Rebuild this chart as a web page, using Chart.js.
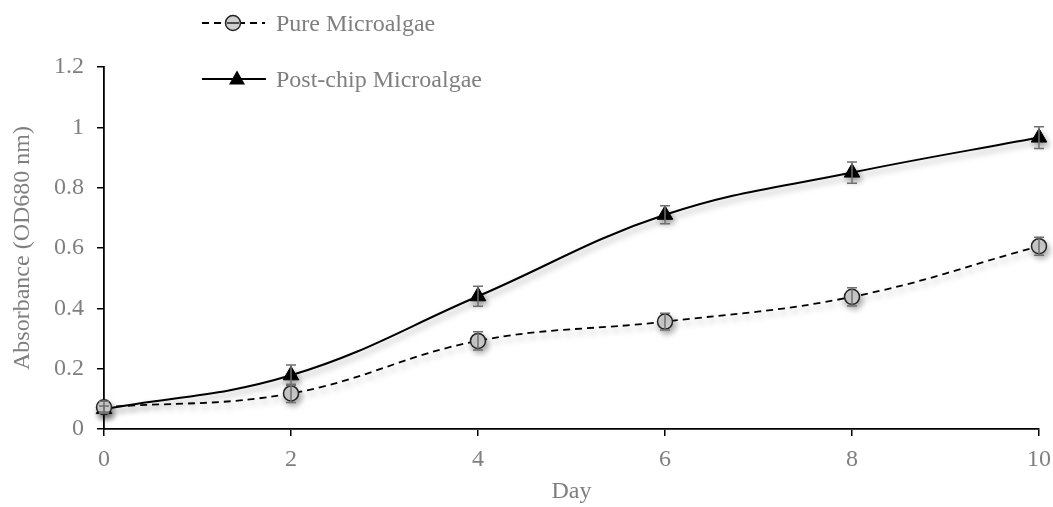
<!DOCTYPE html>
<html>
<head>
<meta charset="utf-8">
<script src="https://cdn.jsdelivr.net/npm/chart.js@4/dist/chart.umd.min.js"></script>
<style>
    html, body { margin: 0; padding: 0; background: #fff; }
    #wrap { position: relative; width: 1053px; height: 507px; }
    .leg {
        position: absolute; left: 198px; height: 30px;
        display: flex; align-items: center;
        font-family: 'Liberation Serif', 'Times New Roman', serif;
        font-size: 24px; color: #7f7f7f; white-space: nowrap;
    }
    .leg svg { margin-right: 8px; }
</style>
</head>
<body>
<div id="wrap">
    <canvas id="chart" width="1053" height="507"></canvas>
    <div class="leg" style="top:8px">
        <svg width="70" height="30">
            <line x1="4" y1="15" x2="67" y2="15" stroke="#000" stroke-width="1.8" stroke-dasharray="7,5"/>
            <circle cx="35" cy="15" r="7.5" fill="#d0d0d0" stroke="#222" stroke-width="1.5"/>
            <line x1="29" y1="15" x2="41" y2="15" stroke="#222" stroke-width="1.5"/>
        </svg>
        <span>Pure Microalgae</span>
    </div>
    <div class="leg" style="top:64px">
        <svg width="70" height="30">
            <line x1="4" y1="15" x2="68" y2="15" stroke="#000" stroke-width="2"/>
            <polygon points="39,6.5 47,20.5 31,20.5" fill="#000"/>
        </svg>
        <span>Post-chip Microalgae</span>
    </div>
</div>
<script>
// values
const days = [0, 2, 4, 6, 8, 10];
const pure = [0.072, 0.118, 0.292, 0.356, 0.438, 0.606];
const pureErr = [0.02, 0.03, 0.03, 0.028, 0.03, 0.03];
const postChip = [0.066, 0.178, 0.440, 0.710, 0.850, 0.966];
const postChipErr = [0.01, 0.034, 0.033, 0.03, 0.035, 0.036];
const yTicks = [0, 0.2, 0.4, 0.6, 0.8, 1, 1.2];

const serif = "'Liberation Serif', 'Times New Roman', serif";
const grey = '#7f7f7f';

function pts(ys) {
    return days.map((d, i) => ({ x: d, y: ys[i] }));
}

// shadow under the marks + error bars on top
const errorBars = {
    id: 'errorBars',
    beforeDatasetsDraw(chart) {
        const ctx = chart.ctx;
        ctx.save();
        ctx.shadowColor = 'rgba(0,0,0,0.35)';
        ctx.shadowBlur = 6;
        ctx.shadowOffsetX = 2;
        ctx.shadowOffsetY = 4;
    },
    afterDatasetsDraw(chart) {
        const ctx = chart.ctx;
        ctx.restore();
        const ys = chart.scales.y;
        const errs = [pureErr, postChipErr];
        const vals = [pure, postChip];
        ctx.save();
        ctx.strokeStyle = '#6f6f6f';
        ctx.lineWidth = 1.5;
        errs.forEach((err, i) => {
            const meta = chart.getDatasetMeta(i);
            meta.data.forEach((p, j) => {
                const top = ys.getPixelForValue(vals[i][j] + err[j]);
                const bot = ys.getPixelForValue(vals[i][j] - err[j]);
                ctx.beginPath();
                ctx.moveTo(p.x, top); ctx.lineTo(p.x, bot);
                ctx.moveTo(p.x - 5, top); ctx.lineTo(p.x + 5, top);
                ctx.moveTo(p.x - 5, bot); ctx.lineTo(p.x + 5, bot);
                ctx.stroke();
            });
        });
        ctx.restore();
    }
};

new Chart(document.getElementById('chart'), {
    type: 'line',
    data: {
        datasets: [
            {
                label: 'Pure Microalgae',
                data: pts(pure),
                borderColor: '#000',
                borderWidth: 1.8,
                borderDash: [7, 5],
                pointStyle: 'circle',
                pointRadius: 7.5,
                pointBackgroundColor: '#d0d0d0',
                pointBorderColor: '#222',
                pointBorderWidth: 1.5,
                tension: 0.4,
                clip: false
            },
            {
                label: 'Post-chip Microalgae',
                data: pts(postChip),
                borderColor: '#000',
                borderWidth: 2,
                pointStyle: 'triangle',
                pointRadius: 9,
                pointBackgroundColor: '#000',
                pointBorderColor: '#000',
                pointBorderWidth: 1,
                tension: 0.4,
                clip: false
            }
        ]
    },
    options: {
        responsive: false,
        animation: false,
        layout: { padding: { top: 67, right: 14, left: 0, bottom: 0 } },
        plugins: {
            legend: { display: false },
            tooltip: { enabled: false }
        },
        scales: {
            x: {
                type: 'linear',
                min: 0, max: 10,
                afterFit: s => { s.height = 78; s.paddingRight = 0; s.paddingLeft = 0; },
                ticks: { stepSize: 2, color: grey, padding: 9, font: { family: serif, size: 24 } },
                grid: { drawOnChartArea: false, tickLength: 7, color: '#000', lineWidth: 1.5 },
                border: { color: '#000', width: 1.8 },
                title: { display: true, text: 'Day', color: grey, padding: { top: 0, bottom: 1 }, font: { family: serif, size: 24 } }
            },
            y: {
                min: 0, max: 1.2,
                afterFit: s => { s.width = 104; },
                afterBuildTicks: s => { s.ticks = yTicks.map(v => ({ value: v })); },
                ticks: {
                    color: grey, padding: 13, font: { family: serif, size: 24 },
                    callback: v => String(Math.round(v * 10) / 10)
                },
                grid: { drawOnChartArea: false, tickLength: 7, color: '#000', lineWidth: 1.5 },
                border: { color: '#000', width: 1.8 },
                title: { display: true, text: 'Absorbance (OD680 nm)', color: grey, padding: { top: 8, bottom: 0 }, font: { family: serif, size: 24 } }
            }
        }
    },
    plugins: [errorBars]
});
</script>
</body>
</html>
